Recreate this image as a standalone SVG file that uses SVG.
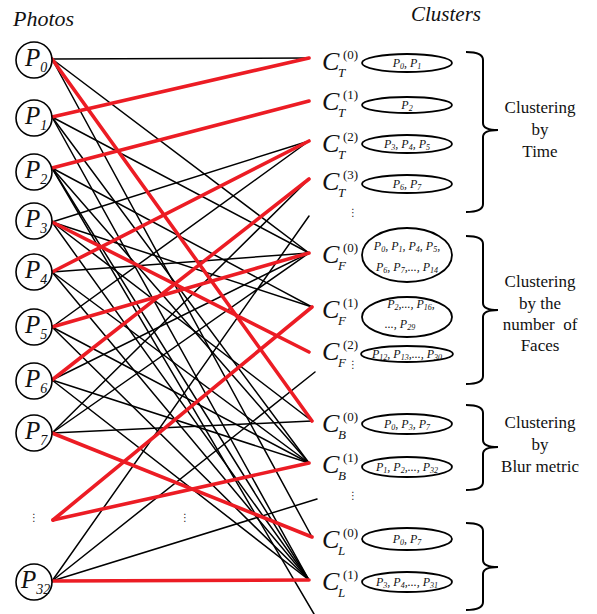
<svg xmlns="http://www.w3.org/2000/svg" width="597" height="614" viewBox="0 0 597 614">
<style>
.bk{stroke:#000;stroke-width:1.5;fill:none;stroke-linecap:round}
.rd{stroke:#ec1c24;stroke-width:3.6;fill:none;stroke-linecap:round}
.ph{fill:#fff;stroke:#000;stroke-width:1.6}
.el{fill:#fff;stroke:#000;stroke-width:1.8}
.br{fill:none;stroke:#000;stroke-width:2}
.it{font-family:"Liberation Serif","Times New Roman",serif;font-style:italic;fill:#111}
.rm{font-family:"Liberation Serif","Times New Roman",serif;fill:#111}
.pl{font-size:25px}
.ps{font-size:14px}
.cl{font-size:26px}
.sup{font-size:13px;font-style:normal}
.sub{font-size:13px}
.m{font-size:12px;text-anchor:middle}
.s{font-size:8px}
.tx{font-size:17px;text-anchor:middle}
.dt{font-family:"DejaVu Sans",sans-serif;font-size:10px;fill:#222;text-anchor:middle}
</style>
<text class="it" x="13" y="26" font-size="22">Photos</text>
<text class="it" x="411" y="21" font-size="21">Clusters</text>
<g id="connectors">
<line class="bk" x1="52" y1="59" x2="309" y2="58"/>
<line class="bk" x1="52" y1="59" x2="309" y2="253"/>
<line class="bk" x1="52" y1="59" x2="312" y2="537"/>
<line class="bk" x1="52" y1="117" x2="309" y2="253"/>
<line class="bk" x1="52" y1="117" x2="309" y2="463"/>
<line class="bk" x1="52" y1="117" x2="309" y2="580"/>
<line class="bk" x1="52" y1="168" x2="312" y2="307"/>
<line class="bk" x1="52" y1="168" x2="309" y2="463"/>
<line class="bk" x1="52" y1="168" x2="309" y2="580"/>
<line class="bk" x1="52" y1="168" x2="314" y2="614"/>
<line class="bk" x1="52" y1="222" x2="309" y2="141"/>
<line class="bk" x1="52" y1="222" x2="312" y2="307"/>
<line class="bk" x1="52" y1="222" x2="312" y2="421"/>
<line class="bk" x1="52" y1="222" x2="309" y2="580"/>
<line class="bk" x1="52" y1="272" x2="309" y2="253"/>
<line class="bk" x1="52" y1="272" x2="309" y2="463"/>
<line class="bk" x1="52" y1="272" x2="309" y2="580"/>
<line class="bk" x1="52" y1="327" x2="309" y2="141"/>
<line class="bk" x1="52" y1="327" x2="309" y2="463"/>
<line class="bk" x1="52" y1="327" x2="309" y2="580"/>
<line class="bk" x1="52" y1="380" x2="309" y2="253"/>
<line class="bk" x1="52" y1="380" x2="309" y2="463"/>
<line class="bk" x1="52" y1="380" x2="309" y2="580"/>
<line class="bk" x1="52" y1="433" x2="309" y2="179"/>
<line class="bk" x1="52" y1="433" x2="309" y2="253"/>
<line class="bk" x1="52" y1="433" x2="312" y2="421"/>
<line class="bk" x1="52" y1="581" x2="309" y2="216"/>
<line class="bk" x1="52" y1="581" x2="315" y2="372"/>
<line class="bk" x1="52" y1="581" x2="317" y2="499"/>
<line class="rd" x1="52" y1="59" x2="312" y2="421"/>
<line class="rd" x1="52" y1="117" x2="309" y2="58"/>
<line class="rd" x1="52" y1="168" x2="309" y2="101"/>
<line class="rd" x1="52" y1="222" x2="309" y2="352"/>
<line class="rd" x1="52" y1="272" x2="309" y2="141"/>
<line class="rd" x1="52" y1="327" x2="309" y2="253"/>
<line class="rd" x1="52" y1="380" x2="309" y2="179"/>
<line class="rd" x1="52" y1="433" x2="312" y2="537"/>
<line class="rd" x1="53" y1="520" x2="312" y2="307"/>
<line class="rd" x1="53" y1="520" x2="309" y2="463"/>
<line class="rd" x1="52" y1="581" x2="309" y2="580"/>
</g>
<g id="P0"><circle class="ph" cx="34" cy="60" r="18"/><text class="it" x="25" y="66"><tspan class="pl">P</tspan><tspan class="ps" dy="6">0</tspan></text></g>
<g id="P1"><circle class="ph" cx="34" cy="118" r="18"/><text class="it" x="25" y="124"><tspan class="pl">P</tspan><tspan class="ps" dy="6">1</tspan></text></g>
<g id="P2"><circle class="ph" cx="34" cy="172" r="18"/><text class="it" x="25" y="178"><tspan class="pl">P</tspan><tspan class="ps" dy="6">2</tspan></text></g>
<g id="P3"><circle class="ph" cx="34" cy="221" r="18"/><text class="it" x="25" y="227"><tspan class="pl">P</tspan><tspan class="ps" dy="6">3</tspan></text></g>
<g id="P4"><circle class="ph" cx="34" cy="272" r="18"/><text class="it" x="25" y="278"><tspan class="pl">P</tspan><tspan class="ps" dy="6">4</tspan></text></g>
<g id="P5"><circle class="ph" cx="34" cy="327" r="18"/><text class="it" x="25" y="333"><tspan class="pl">P</tspan><tspan class="ps" dy="6">5</tspan></text></g>
<g id="P6"><circle class="ph" cx="34" cy="381" r="18"/><text class="it" x="25" y="387"><tspan class="pl">P</tspan><tspan class="ps" dy="6">6</tspan></text></g>
<g id="P7"><circle class="ph" cx="34" cy="433" r="18"/><text class="it" x="25" y="439"><tspan class="pl">P</tspan><tspan class="ps" dy="6">7</tspan></text></g>
<g id="Pdots"><text class="dt" x="34" y="521">⋮</text></g>
<g id="P32"><circle class="ph" cx="34" cy="582" r="18"/><text class="it" x="21" y="588"><tspan class="pl">P</tspan><tspan class="ps" dy="6">32</tspan></text></g>
<g id="middots"><text class="dt" x="185" y="521">⋮</text></g>

<g id="CT0"><text class="it cl" x="322" y="70">C</text><text class="rm sup" x="343" y="59">(0)</text><text class="it sub" x="338" y="77">T</text>
<ellipse class="el" cx="407" cy="63" rx="45" ry="9"/><text class="it m" x="407" y="67">P<tspan class="s" dy="2">0</tspan><tspan dy="-2">, P</tspan><tspan class="s" dy="2">1</tspan></text></g>
<g id="CT1"><text class="it cl" x="322" y="110">C</text><text class="rm sup" x="343" y="99">(1)</text><text class="it sub" x="338" y="117">T</text>
<ellipse class="el" cx="407" cy="105" rx="45" ry="8"/><text class="it m" x="407" y="109">P<tspan class="s" dy="2">2</tspan></text></g>
<g id="CT2"><text class="it cl" x="322" y="152">C</text><text class="rm sup" x="343" y="141">(2)</text><text class="it sub" x="338" y="159">T</text>
<ellipse class="el" cx="407" cy="144" rx="45" ry="9"/><text class="it m" x="407" y="148">P<tspan class="s" dy="2">3</tspan><tspan dy="-2">, P</tspan><tspan class="s" dy="2">4</tspan><tspan dy="-2">, P</tspan><tspan class="s" dy="2">5</tspan></text></g>
<g id="CT3"><text class="it cl" x="322" y="190">C</text><text class="rm sup" x="343" y="179">(3)</text><text class="it sub" x="338" y="197">T</text>
<ellipse class="el" cx="407" cy="184" rx="45" ry="9"/><text class="it m" x="407" y="188">P<tspan class="s" dy="2">6</tspan><tspan dy="-2">, P</tspan><tspan class="s" dy="2">7</tspan></text></g>
<g id="CTdots"><text class="dt" x="353" y="216">⋮</text></g>

<g id="CF0"><text class="it cl" x="322" y="263">C</text><text class="rm sup" x="343" y="252">(0)</text><text class="it sub" x="338" y="270">F</text>
<ellipse class="el" cx="407" cy="255" rx="45" ry="27"/><text class="it m" x="407" y="250">P<tspan class="s" dy="2">0</tspan><tspan dy="-2">, P</tspan><tspan class="s" dy="2">1</tspan><tspan dy="-2">, P</tspan><tspan class="s" dy="2">4</tspan><tspan dy="-2">, P</tspan><tspan class="s" dy="2">5</tspan><tspan dy="-2">,</tspan></text>
<text class="it m" x="407" y="271">P<tspan class="s" dy="2">6</tspan><tspan dy="-2">, P</tspan><tspan class="s" dy="2">7</tspan><tspan dy="-2">,..., P</tspan><tspan class="s" dy="2">14</tspan></text></g>
<g id="CF1"><text class="it cl" x="322" y="318">C</text><text class="rm sup" x="343" y="307">(1)</text><text class="it sub" x="338" y="325">F</text>
<ellipse class="el" cx="407" cy="317" rx="45" ry="20"/><text class="it m" x="411" y="308">P<tspan class="s" dy="2">2</tspan><tspan dy="-2">,..., P</tspan><tspan class="s" dy="2">16</tspan><tspan dy="-2">,</tspan></text>
<text class="it m" x="400" y="328">..., P<tspan class="s" dy="2">29</tspan></text></g>
<g id="CF2"><text class="it cl" x="322" y="360">C</text><text class="rm sup" x="343" y="349">(2)</text><text class="it sub" x="338" y="367">F</text>
<ellipse class="el" cx="407" cy="354" rx="46" ry="8"/><text class="it m" x="407" y="358">P<tspan class="s" dy="2">12</tspan><tspan dy="-2">, P</tspan><tspan class="s" dy="2">13</tspan><tspan dy="-2">,..., P</tspan><tspan class="s" dy="2">30</tspan></text></g>
<g id="CFdots"><text class="dt" x="353" y="368">⋮</text></g>

<g id="CB0"><text class="it cl" x="322" y="432">C</text><text class="rm sup" x="343" y="421">(0)</text><text class="it sub" x="338" y="439">B</text>
<ellipse class="el" cx="407" cy="424" rx="45" ry="10"/><text class="it m" x="407" y="428">P<tspan class="s" dy="2">0</tspan><tspan dy="-2">, P</tspan><tspan class="s" dy="2">3</tspan><tspan dy="-2">, P</tspan><tspan class="s" dy="2">7</tspan></text></g>
<g id="CB1"><text class="it cl" x="322" y="473">C</text><text class="rm sup" x="343" y="462">(1)</text><text class="it sub" x="338" y="480">B</text>
<ellipse class="el" cx="407" cy="467" rx="45" ry="10"/><text class="it m" x="407" y="471">P<tspan class="s" dy="2">1</tspan><tspan dy="-2">, P</tspan><tspan class="s" dy="2">2</tspan><tspan dy="-2">,..., P</tspan><tspan class="s" dy="2">32</tspan></text></g>
<g id="CBdots"><text class="dt" x="353" y="499">⋮</text></g>

<g id="CL0"><text class="it cl" x="322" y="548">C</text><text class="rm sup" x="343" y="537">(0)</text><text class="it sub" x="338" y="555">L</text>
<ellipse class="el" cx="407" cy="539" rx="45" ry="11"/><text class="it m" x="407" y="543">P<tspan class="s" dy="2">0</tspan><tspan dy="-2">, P</tspan><tspan class="s" dy="2">7</tspan></text></g>
<g id="CL1"><text class="it cl" x="322" y="590">C</text><text class="rm sup" x="343" y="579">(1)</text><text class="it sub" x="338" y="597">L</text>
<ellipse class="el" cx="407" cy="582" rx="45" ry="10"/><text class="it m" x="407" y="586">P<tspan class="s" dy="2">3</tspan><tspan dy="-2">, P</tspan><tspan class="s" dy="2">4</tspan><tspan dy="-2">,..., P</tspan><tspan class="s" dy="2">31</tspan></text></g>

<g id="braceTime"><path class="br" d="M466,52 Q483,52 483,60 L483,123 Q483,130 498,130 Q483,130 483,137 L483,204 Q483,212 466,212"/>
<text class="rm tx" x="540" y="113">Clustering</text><text class="rm tx" x="540" y="135">by</text><text class="rm tx" x="540" y="157">Time</text></g>
<g id="braceFaces"><path class="br" d="M466,236 Q483,236 483,244 L483,303 Q483,310 498,310 Q483,310 483,317 L483,376 Q483,384 466,384"/>
<text class="rm tx" x="540" y="287">Clustering</text><text class="rm tx" x="540" y="309">by the</text><text class="rm tx" x="540" y="330" xml:space="preserve">number  of</text><text class="rm tx" x="540" y="351">Faces</text></g>
<g id="braceBlur"><path class="br" d="M466,405 Q483,405 483,413 L483,440 Q483,447 498,447 Q483,447 483,454 L483,482 Q483,490 466,490"/>
<text class="rm tx" x="540" y="428">Clustering</text><text class="rm tx" x="540" y="450">by</text><text class="rm tx" x="540" y="472">Blur metric</text></g>
<g id="braceL"><path class="br" d="M466,523 Q483,523 483,531 L483,560 Q483,567 498,567 Q483,567 483,574 L483,602 Q483,610 466,610"/></g>
</svg>
